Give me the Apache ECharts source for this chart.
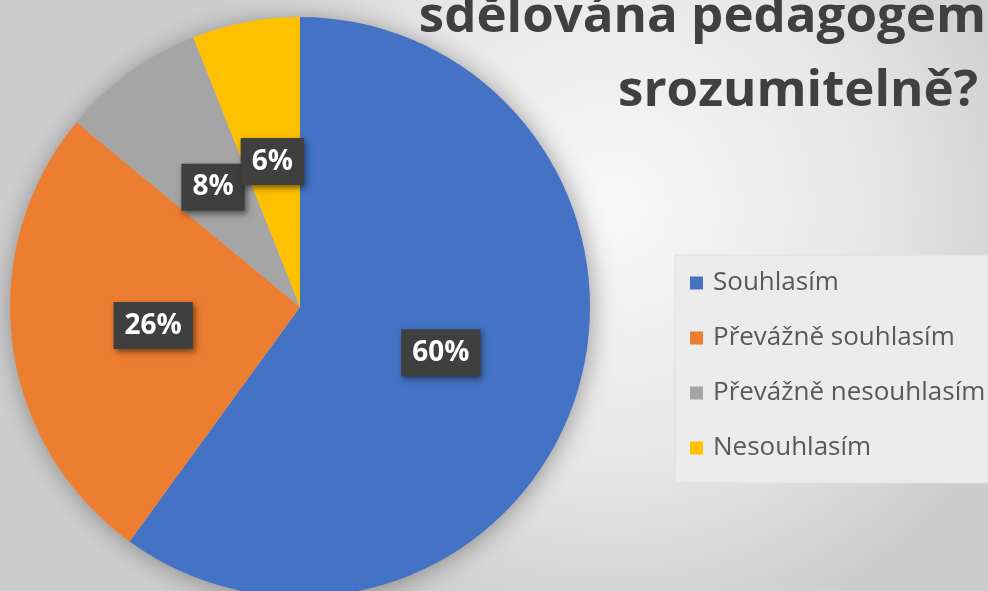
<!DOCTYPE html>
<html>
<head>
<meta charset="utf-8">
<script src="https://cdn.jsdelivr.net/npm/echarts@6/dist/echarts.min.js"></script>
<style>
html,body{margin:0;padding:0;}
#main{width:988px;height:591px;}
</style>
</head>
<body>
<div id="main"></div>
<script>
// data
var categories = ['Souhlasím', 'Převážně souhlasím', 'Převážně nesouhlasím', 'Nesouhlasím'];
var values = [60, 26, 8, 6];
var colors = ['#4472C4', '#ED7D31', '#A5A5A5', '#FFC000'];
var titleLines = ['sdělována pedagogem', 'srozumitelně?'];

var myChart = echarts.init(document.getElementById('main'));

var pieData = [];
for (var i = 0; i < categories.length; i++) {
	pieData.push({name: categories[i], value: values[i]});
}
var total = 0;
values.forEach(function(v){ total += v; });

var titleFont = {
	fontFamily: 'Open Sans',
	fontSize: 51,
	fontWeight: 'bold',
	color: '#404040',
	lineHeight: 74
};

var option = {
	animation: false,
	backgroundColor: {
		type: 'radial', x: 0.62, y: 0.35, r: 0.75,
		colorStops: [
			{offset: 0, color: '#f8f8f8'},
			{offset: 0.6, color: '#e6e6e6'},
			{offset: 1, color: '#cdcdcd'}
		]
	},
	color: colors,
	title: {
		text: '{a|' + titleLines[0] + '}\n{b|' + titleLines[1] + '}',
		left: 986,
		top: -20,
		padding: 0,
		textAlign: 'right',
		textStyle: {
			rich: {
				a: titleFont,
				b: Object.assign({padding: [0, 8, 0, 0]}, titleFont)
			}
		}
	},
	legend: {
		orient: 'vertical',
		left: 675,
		top: 255,
		padding: [15, 60, 22, 15],
		backgroundColor: '#ececec',
		borderColor: '#dedede',
		borderWidth: 1,
		icon: 'rect',
		itemWidth: 13,
		itemHeight: 13,
		itemGap: 29,
		data: categories,
		textStyle: {
			fontFamily: 'Open Sans',
			fontSize: 26,
			color: '#595959',
			padding: [0, 0, 0, 5]
		}
	},
	series: [
		{
			// shadow under the whole pie
			type: 'pie',
			center: [300, 307],
			radius: 290,
			silent: true,
			z: 1,
			label: {show: false},
			labelLine: {show: false},
			itemStyle: {
				color: '#bbbbbb',
				shadowBlur: 25,
				shadowColor: 'rgba(0,0,0,0.35)',
				shadowOffsetX: 2,
				shadowOffsetY: 2
			},
			data: [{name: '', value: total}]
		},
		{
			type: 'pie',
			center: [300, 307],
			radius: 290,
			startAngle: 90,
			z: 2,
			avoidLabelOverlap: false,
			labelLayout: {hideOverlap: false},
			itemStyle: {borderWidth: 0},
			label: {
				show: true,
				position: 'inside',
				formatter: '{c}%',
				fontFamily: 'Open Sans',
				fontSize: 28,
				lineHeight: 30,
				fontWeight: 'bold',
				color: '#ffffff',
				backgroundColor: '#3f3f3f',
				padding: [9, 11, 8, 11],
				shadowBlur: 6,
				shadowColor: 'rgba(0,0,0,0.5)',
				shadowOffsetX: 2,
				shadowOffsetY: 3
			},
			labelLine: {show: false},
			emphasis: {disabled: true},
			data: pieData
		}
	]
};

myChart.setOption(option);
</script>
</body>
</html>
